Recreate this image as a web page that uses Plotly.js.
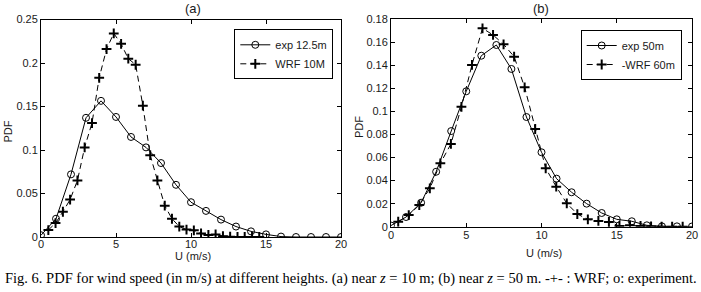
<!DOCTYPE html>
<html>
<head>
<meta charset="utf-8">
<script src="https://cdn.plot.ly/plotly-3.0.1.min.js"></script>
<style>
html,body{margin:0;padding:0;background:#fff;}
#chart{width:701px;height:292px;}
</style>
</head>
<body>
<div id="chart"></div>
<script>
// ---- Data ----
// Panel (a): near z = 10 m
var expX = [0,1,2,3,4,5,6,7,8,9,10,11,12,13,14,15,16,17,18,19,20];
var expA = [0.002,0.021,0.072,0.137,0.1565,0.138,0.115,0.103,0.085,0.060,0.040,0.030,0.020,0.012,0.0065,0.003,0.0005,0,0,0,0];
var wrfAx = [0.49,0.97,1.46,1.94,2.43,2.91,3.40,3.88,4.37,4.85,5.34,5.82,6.31,6.79,7.28,7.76,8.25,8.73,9.22,9.70,10.19,10.67,11.16,11.64,12.13,12.61,13.10,13.58,14.07,14.55];
var wrfA = [0.008,0.016,0.029,0.043,0.065,0.103,0.131,0.183,0.216,0.234,0.222,0.205,0.198,0.151,0.094,0.065,0.036,0.021,0.012,0.0085,0.0077,0.004,0.0023,0.003,0.001,0.0003,0,0,0,0];
// Panel (b): near z = 50 m
var expB = [0.001,0.0084,0.0208,0.0477,0.083,0.1175,0.1484,0.1577,0.1369,0.0952,0.0646,0.0417,0.0299,0.020,0.0119,0.0064,0.0047,0.0012,0.0003,0.0003,0.0002];
var wrfBx = [0.48,1.18,1.88,2.58,3.28,3.98,4.68,5.38,6.08,6.78,7.48,8.18,8.88,9.58,10.28,10.98,11.68,12.38,13.08,13.78,14.48,15.18,15.88,16.58,17.28,17.98,18.68,19.38];
var wrfB = [0.0043,0.0101,0.0188,0.0333,0.055,0.0718,0.104,0.1404,0.1722,0.1664,0.1583,0.1476,0.121,0.0848,0.0507,0.0347,0.0203,0.011,0.0064,0.005,0.0041,0.0006,0.0012,0.0006,0.0002,0,0,0];
// Labels
var legendA = ["exp 12.5m", "WRF 10M"];
var legendB = ["exp 50m", "-WRF 60m"];
var xTicks = [0,5,10,15,20];
var yTicksA = [0,0.05,0.1,0.15,0.2,0.25];
var yTicksAText = ["0","0.05","0.1","0.15","0.2","0.25"];
var yTicksB = [0,0.02,0.04,0.06,0.08,0.1,0.12,0.14,0.16,0.18];
var yTicksBText = ["0","0.02","0.04","0.06","0.08","0.1","0.12","0.14","0.16","0.18"];
var panelTitles = ["(a)", "(b)"];
var xTitle = "U (m/s)";
var yTitle = "PDF";
var caption = "Fig. 6. PDF for wind speed (in m/s) at different heights. (a) near <i>z</i> = 10 m; (b) near <i>z</i> = 50 m. -+- : WRF; o: experiment.";

// ---- Plot ----
var W = 701, H = 292;
function px(x){ return x / W; }
function py(y){ return 1 - y / H; }
var txt = '#1a1a1a';
var tickFont = {family: 'Liberation Sans, Arial, sans-serif', size: 11, color: txt};

var expStyle = {color: '#000', width: 1};
var wrfStyle = {color: '#000', width: 1, dash: '6px,4px'};
var circ = {symbol: 'circle-open', size: 7, color: '#000', line: {width: 1, color: '#000'}};
var plus = {symbol: 'cross-thin-open', size: 7, color: '#000', line: {width: 2, color: '#000'}};

var traces = [
  {x: expX, y: expA, name: legendA[0], mode: 'lines+markers', line: expStyle, marker: circ, xaxis: 'x', yaxis: 'y', legend: 'legend'},
  {x: wrfAx, y: wrfA, name: legendA[1], mode: 'lines+markers', line: wrfStyle, marker: plus, xaxis: 'x', yaxis: 'y', legend: 'legend'},
  {x: expX, y: expB, name: legendB[0], mode: 'lines+markers', line: expStyle, marker: circ, xaxis: 'x2', yaxis: 'y2', legend: 'legend2'},
  {x: wrfBx, y: wrfB, name: legendB[1], mode: 'lines+markers', line: wrfStyle, marker: plus, xaxis: 'x2', yaxis: 'y2', legend: 'legend2'}
];

function axis(domain, range, tv, tt, anchor, standoff){
  return {
    domain: domain, range: range, anchor: anchor,
    tickmode: 'array', tickvals: tv, ticktext: tt,
    ticks: 'inside', ticklen: 4, tickwidth: 1, tickcolor: '#000',
    ticklabelstandoff: standoff,
    showline: true, linecolor: '#000', linewidth: 1, mirror: 'ticks',
    showgrid: false, zeroline: false, tickfont: tickFont, fixedrange: true
  };
}

var legBase = {
  font: {family: 'Liberation Sans, Arial, sans-serif', size: 11, color: txt},
  bgcolor: '#fff', bordercolor: '#000', borderwidth: 1,
  xanchor: 'right', yanchor: 'top', itemwidth: 30, tracegroupgap: 0,
  xref: 'paper', yref: 'paper'
};

var layout = {
  width: W, height: H,
  margin: {l: 0, r: 0, t: 0, b: 0},
  paper_bgcolor: '#fff', plot_bgcolor: '#fff',
  showlegend: true,
  xaxis: axis([px(41), px(341)], [0, 20], xTicks, xTicks.map(String), 'y', -3),
  yaxis: axis([py(237), py(19.5)], [0, 0.25], yTicksA, yTicksAText, 'x', 0),
  xaxis2: axis([px(391), px(692)], [0, 20], xTicks, xTicks.map(String), 'y2', -2),
  yaxis2: axis([py(226.7), py(19.3)], [0, 0.18], yTicksB, yTicksBText, 'x2', 0),
  legend: Object.assign({}, legBase, {x: px(333.3), y: py(29.3)}),
  legend2: Object.assign({}, legBase, {x: px(681.7), y: py(30)}),
  annotations: [
    {text: panelTitles[0], x: px(193), y: py(8), xref: 'paper', yref: 'paper', showarrow: false, xanchor: 'center', yanchor: 'middle', font: {family: 'Liberation Sans, Arial, sans-serif', size: 13, color: txt}},
    {text: panelTitles[1], x: px(541), y: py(8), xref: 'paper', yref: 'paper', showarrow: false, xanchor: 'center', yanchor: 'middle', font: {family: 'Liberation Sans, Arial, sans-serif', size: 13, color: txt}},
    {text: xTitle, x: px(193), y: py(256), xref: 'paper', yref: 'paper', showarrow: false, xanchor: 'center', yanchor: 'middle', font: tickFont},
    {text: xTitle, x: px(544), y: py(253), xref: 'paper', yref: 'paper', showarrow: false, xanchor: 'center', yanchor: 'middle', font: tickFont},
    {text: yTitle, x: px(7), y: py(131.5), xref: 'paper', yref: 'paper', showarrow: false, textangle: -90, xanchor: 'center', yanchor: 'middle', font: tickFont},
    {text: yTitle, x: px(359), y: py(127), xref: 'paper', yref: 'paper', showarrow: false, textangle: -90, xanchor: 'center', yanchor: 'middle', font: tickFont},
    {text: caption, x: 0.5, y: py(278), xref: 'paper', yref: 'paper', showarrow: false, xanchor: 'center', yanchor: 'middle', font: {family: 'Liberation Serif, Times New Roman, serif', size: 14.5, color: '#000'}}
  ]
};

Plotly.newPlot('chart', traces, layout, {staticPlot: true, displayModeBar: false});
</script>
</body>
</html>
